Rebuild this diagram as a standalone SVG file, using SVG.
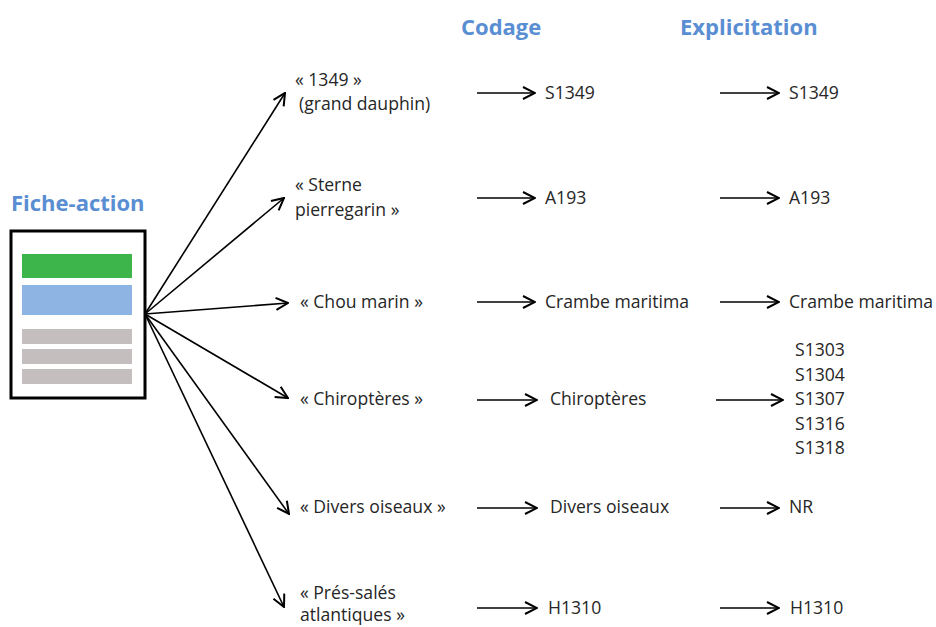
<svg xmlns="http://www.w3.org/2000/svg" width="936" height="627" viewBox="0 0 936 627">
<style>
.t{font-family:"Open Sans","Liberation Sans",sans-serif;font-size:17.6px;fill:#262626}
.h{font-family:"Open Sans","Liberation Sans",sans-serif;font-size:22px;font-weight:bold;fill:#5A8ED3}
.c line{stroke:#000;stroke-width:1.6;fill:none}
</style>
<defs>
<marker id="a" viewBox="0 0 14 14" refX="13" refY="7" markerWidth="14" markerHeight="14" markerUnits="userSpaceOnUse" orient="auto">
<path d="M1,1 L13,7 L1,13" fill="none" stroke="#000" stroke-width="2"/>
</marker>
</defs>
<rect width="936" height="627" fill="#fff"/>
<text class="h" x="461" y="35">Codage</text>
<text class="h" x="680" y="35">Explicitation</text>
<g id="fiche">
<text class="h" x="11" y="211">Fiche-action</text>
<rect x="11" y="231" width="134" height="167" fill="#fff" stroke="#000" stroke-width="3"/>
<rect x="22" y="254" width="110" height="24" fill="#3DB54A"/>
<rect x="22" y="285" width="110" height="30" fill="#8EB4E3"/>
<rect x="22" y="329" width="110" height="15" fill="#C4BFBE"/>
<rect x="22" y="349" width="110" height="15" fill="#C4BFBE"/>
<rect x="22" y="369" width="110" height="15" fill="#C4BFBE"/>
</g>
<g class="c" id="connectors">
<line x1="145" y1="314" x2="285" y2="93" marker-end="url(#a)"/>
<line x1="145" y1="314" x2="284" y2="198" marker-end="url(#a)"/>
<line x1="145" y1="314" x2="288" y2="303" marker-end="url(#a)"/>
<line x1="145" y1="314" x2="288" y2="398" marker-end="url(#a)"/>
<line x1="145" y1="314" x2="289" y2="514" marker-end="url(#a)"/>
<line x1="145" y1="314" x2="284" y2="607" marker-end="url(#a)"/>
<line x1="477" y1="93" x2="535" y2="93" marker-end="url(#a)"/>
<line x1="477" y1="198" x2="535" y2="198" marker-end="url(#a)"/>
<line x1="477" y1="302" x2="535" y2="302" marker-end="url(#a)"/>
<line x1="477" y1="400" x2="537" y2="400" marker-end="url(#a)"/>
<line x1="477" y1="508" x2="537" y2="508" marker-end="url(#a)"/>
<line x1="477" y1="608" x2="537" y2="608" marker-end="url(#a)"/>
<line x1="720" y1="93" x2="779" y2="93" marker-end="url(#a)"/>
<line x1="720" y1="198" x2="779" y2="198" marker-end="url(#a)"/>
<line x1="720" y1="302" x2="779" y2="302" marker-end="url(#a)"/>
<line x1="716" y1="400" x2="783" y2="400" marker-end="url(#a)"/>
<line x1="720" y1="508" x2="779" y2="508" marker-end="url(#a)"/>
<line x1="720" y1="608" x2="779" y2="608" marker-end="url(#a)"/>
</g>
<g id="n1"><text class="t" x="295" y="86">« 1349 »</text><text class="t" x="299" y="110">(grand dauphin)</text></g>
<g id="n2"><text class="t" x="295" y="191">« Sterne</text><text class="t" x="295" y="216">pierregarin »</text></g>
<g id="n3"><text class="t" x="300" y="308">« Chou marin »</text></g>
<g id="n4"><text class="t" x="300" y="405">« Chiroptères »</text></g>
<g id="n5"><text class="t" x="300" y="513">« Divers oiseaux »</text></g>
<g id="n6"><text class="t" x="300" y="599">« Prés-salés</text><text class="t" x="300" y="621">atlantiques »</text></g>
<g id="c1"><text class="t" x="545" y="99">S1349</text></g>
<g id="c2"><text class="t" x="545" y="204">A193</text></g>
<g id="c3"><text class="t" x="545" y="308">Crambe maritima</text></g>
<g id="c4"><text class="t" x="550" y="405">Chiroptères</text></g>
<g id="c5"><text class="t" x="550" y="513">Divers oiseaux</text></g>
<g id="c6"><text class="t" x="548" y="614">H1310</text></g>
<g id="e1"><text class="t" x="789" y="99">S1349</text></g>
<g id="e2"><text class="t" x="789" y="204">A193</text></g>
<g id="e3"><text class="t" x="789" y="308">Crambe maritima</text></g>
<g id="e4"><text class="t" x="795" y="356">S1303</text><text class="t" x="795" y="381">S1304</text><text class="t" x="795" y="405">S1307</text><text class="t" x="795" y="430">S1316</text><text class="t" x="795" y="454">S1318</text></g>
<g id="e5"><text class="t" x="789" y="513">NR</text></g>
<g id="e6"><text class="t" x="790" y="614">H1310</text></g>
</svg>
